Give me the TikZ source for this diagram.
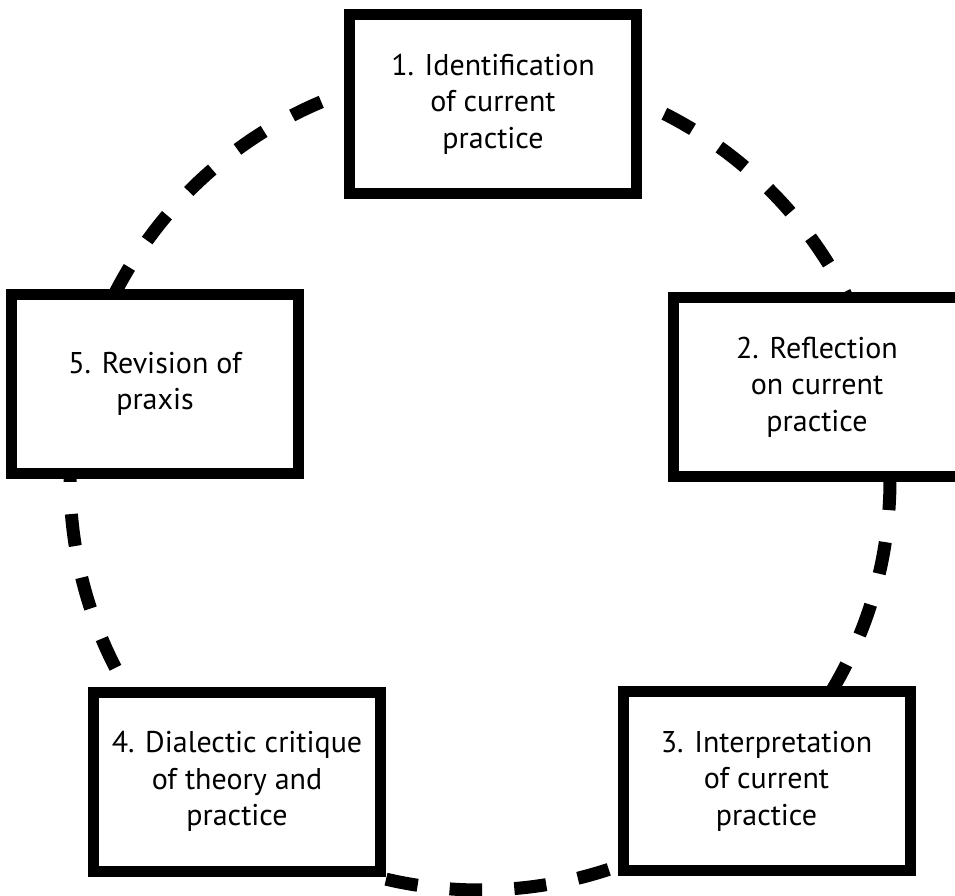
\documentclass[tikz,border=0pt]{standalone}
\usepackage{fontspec}
\setmainfont{PT Sans}
\begin{document}
\begin{tikzpicture}[x=1pt,y=-1pt,
  stage/.style={draw=black, line width=11pt, fill=white, rectangle,
    minimum width=287pt, minimum height=179pt, align=center,
    font=\fontsize{30}{36.5}\selectfont, inner sep=0pt},
  cycleline/.style={draw=black, line width=13pt, dash pattern=on 32.2pt off 32.2pt}]
\useasboundingbox (0,0) rectangle (955,896);
\fill[white] (0,0) rectangle (955,896);
\coordinate (c) at (480,480);
\draw[cycleline] (c) ++(89.75:410) arc[start angle=89.75, end angle=449.75, radius=410];
\node[stage] (s1) at (493,104) {1. Identification\\of current\\practice};
\node[stage] (s2) at (817,387) {2. Reflection\\on current\\practice};
\node[stage] (s3) at (766.5,781) {3. Interpretation\\of current\\practice};
\node[stage] (s4) at (237,781.5) {4. Dialectic critique\\of theory and\\practice};
\node[stage] (s5) at (155,384) {5. Revision of\\praxis};
\end{tikzpicture}
\end{document}
